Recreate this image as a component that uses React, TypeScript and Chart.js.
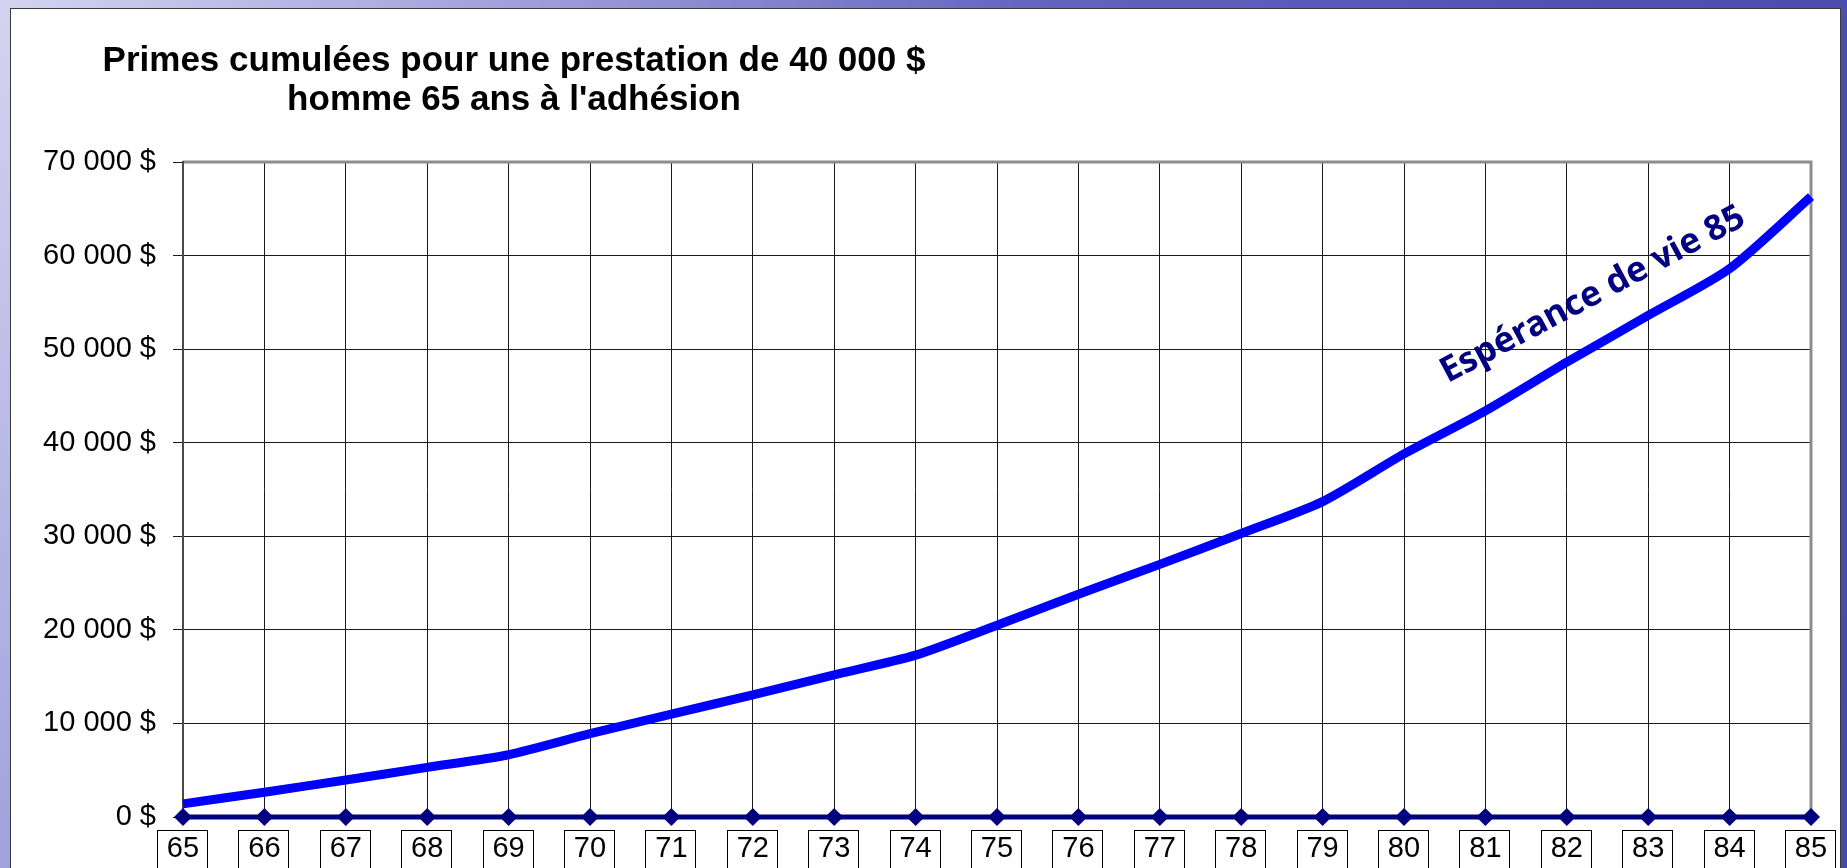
import React, { useEffect, useRef } from 'react';
import { Chart, registerables } from 'chart.js';

Chart.register(...registerables);

const ages = ['65', '66', '67', '68', '69', '70', '71', '72', '73', '74', '75', '76', '77', '78', '79', '80', '81', '82', '83', '84', '85'];
const cumulativePremiums = [1400, 2650, 3950, 5300, 6650, 8900, 11000, 13050, 15200, 17300, 20500, 23800, 27000, 30300, 33700, 38800, 43400, 48600, 53600, 58600, 66300];
const baselineSeries = [0, 0, 0, 0, 0, 0, 0, 0, 0, 0, 0, 0, 0, 0, 0, 0, 0, 0, 0, 0, 0];
const yTickValues = [0, 10000, 20000, 30000, 40000, 50000, 60000, 70000];
const titleLines = ['Primes cumulées pour une prestation de 40 000 $', "homme 65 ans à l'adhésion"];
const annotationText = 'Espérance de vie 85';
const annotationAge = 82.32;
const annotationValue = 55800;

const formatMoney = (v: number) => String(v).replace(/\B(?=(\d{3})+(?!\d))/g, ' ') + ' $';

const decorPlugin = {
  id: 'decor',
  beforeDatasetsDraw(chart: any) {
    const { ctx, chartArea: a } = chart;
    ctx.save();
    ctx.strokeStyle = '#8c8c8c';
    ctx.lineWidth = 3;
    ctx.beginPath();
    ctx.moveTo(a.left, a.top);
    ctx.lineTo(a.right, a.top);
    ctx.lineTo(a.right, a.bottom);
    ctx.stroke();
    ctx.strokeStyle = '#4a4a4a';
    ctx.lineWidth = 2;
    ctx.beginPath();
    ctx.moveTo(a.left, a.top - 1);
    ctx.lineTo(a.left, a.bottom);
    ctx.stroke();
    ctx.restore();
  },
  afterDraw(chart: any) {
    const { ctx, chartArea: a } = chart;
    const xs = chart.scales.x;
    const ys = chart.scales.y;
    ctx.save();
    // label boxes
    ctx.strokeStyle = '#000';
    ctx.lineWidth = 1;
    ages.forEach((_, i) => {
      const px = Math.round(xs.getPixelForValue(i));
      ctx.strokeRect(px - 25.5, a.bottom + 13.5, 50, 44);
    });
    // title
    ctx.fillStyle = '#000';
    ctx.font = 'bold 35px "Liberation Sans", Arial, sans-serif';
    ctx.textAlign = 'center';
    ctx.textBaseline = 'alphabetic';
    ctx.fillText(titleLines[0], 514, 71);
    ctx.fillText(titleLines[1], 514, 110);
    // annotation
    const ax = xs.getPixelForValue(annotationAge - Number(ages[0]));
    const ay = ys.getPixelForValue(annotationValue);
    ctx.translate(ax, ay);
    ctx.rotate(-28 * Math.PI / 180);
    ctx.font = 'bold 35px "Noto Sans", "Open Sans", sans-serif';
    ctx.fillStyle = '#000080';
    ctx.textAlign = 'center';
    ctx.textBaseline = 'middle';
    ctx.fillText(annotationText, 0, 0);
    ctx.restore();
  },
};

export default function App() {
  const canvasRef = useRef<HTMLCanvasElement | null>(null);

  useEffect(() => {
    document.body.style.margin = '0';
    const canvas = canvasRef.current;
    if (!canvas) return;
    const chart = new Chart(canvas, {
      type: 'line',
      data: {
        labels: ages,
        datasets: [
          {
            data: cumulativePremiums,
            borderColor: '#0000ff',
            borderWidth: 9,
            pointRadius: 0,
            tension: 0.25,
            fill: false,
            borderCapStyle: 'butt',
          },
          {
            data: baselineSeries,
            borderColor: '#000080',
            backgroundColor: '#000080',
            borderWidth: 5,
            pointStyle: 'rectRot',
            pointRadius: 9,
            pointBorderWidth: 0,
            pointBackgroundColor: '#000080',
            tension: 0,
            fill: false,
            clip: false as any,
          },
        ],
      },
      options: {
        responsive: false,
        animation: false,
        devicePixelRatio: 1,
        layout: { padding: { left: 0, top: 162, right: 36, bottom: 0 } },
        plugins: {
          legend: { display: false },
          title: { display: false },
          tooltip: { enabled: false },
        },
        scales: {
          x: {
            type: 'category',
            offset: false,
            grid: { color: '#1a1a1a', lineWidth: 1, drawTicks: false },
            border: { display: false },
            ticks: {
              color: '#000',
              font: { family: '"Liberation Sans", Arial, sans-serif', size: 29 },
              padding: 15,
              maxRotation: 0,
              autoSkip: false,
            },
            afterFit(scale: any) {
              scale.height = 51;
            },
          },
          y: {
            min: 0,
            max: 70000,
            afterBuildTicks(scale: any) {
              scale.ticks = yTickValues.map((v) => ({ value: v }));
            },
            grid: { color: '#1a1a1a', lineWidth: 1, tickLength: 10 },
            border: { display: false },
            ticks: {
              color: '#000',
              font: { family: '"Liberation Sans", Arial, sans-serif', size: 29 },
              padding: 17,
              callback: (v: any) => formatMoney(Number(v)),
            },
            afterFit(scale: any) {
              scale.width = 183;
            },
          },
        },
      },
      plugins: [decorPlugin],
    });
    return () => chart.destroy();
  }, []);

  return (
    <div
      style={{
        position: 'fixed',
        left: 0,
        top: 0,
        width: 1847,
        height: 868,
        overflow: 'hidden',
        background: 'linear-gradient(120deg, #d4d4f0 0%, #a0a0dc 22%, #6262c0 45%, #4f4fb2 70%, #4848ac 100%)',
      }}
    >
      <div
        style={{
          position: 'absolute',
          left: 10,
          top: 8,
          width: 1831,
          height: 900,
          background: '#fff',
          border: '1px solid #3a3a3a',
          boxSizing: 'border-box',
        }}
      />
      <canvas ref={canvasRef} width={1847} height={868} style={{ position: 'absolute', left: 0, top: 0 }} />
    </div>
  );
}
